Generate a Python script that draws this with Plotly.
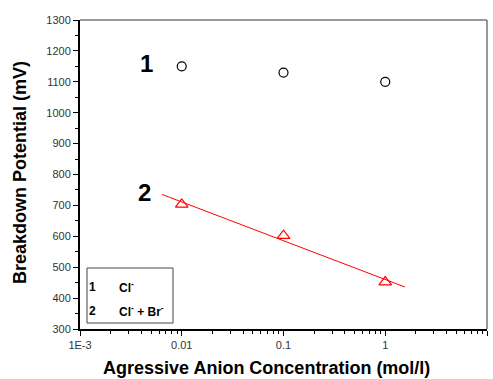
import numpy as np
import plotly.graph_objects as go

conc = [0.01, 0.1, 1]
cl_only = [1150, 1130, 1100]
cl_br = [703, 602, 452]
fit_range = [0.0064, 1.56]
x_tickvals = [0.001, 0.01, 0.1, 1, 10]
x_ticktext = ["1E-3", "0.01", "0.1", "1", "10"]
x_minor = [m * 10.0 ** e for e in range(-3, 1) for m in range(2, 10)]

# linear fit of series 2 versus log10(concentration)
slope, intercept = np.polyfit(np.log10(conc), cl_br, 1)
fit_x = np.logspace(np.log10(fit_range[0]), np.log10(fit_range[1]), 20)
fit_y = slope * np.log10(fit_x) + intercept

FONT = "Arial, 'Liberation Sans', sans-serif"

fig = go.Figure()
fig.add_trace(go.Scatter(x=fit_x, y=fit_y, mode="lines",
                         line=dict(color="#ff0000", width=1), showlegend=False))
fig.add_trace(go.Scatter(x=conc, y=cl_only, mode="markers",
                         marker=dict(symbol="circle-open", size=9, color="black",
                                     line=dict(width=1.2)), showlegend=False))
fig.add_trace(go.Scatter(x=conc, y=cl_br, mode="markers",
                         marker=dict(symbol="triangle-up-open", size=11, color="#ff0000",
                                     line=dict(width=1.2)), showlegend=False))

fig.update_layout(
    width=493, height=379,
    margin=dict(l=80, r=6, t=20, b=50),
    paper_bgcolor="white", plot_bgcolor="white",
    font=dict(family=FONT, color="#222"),
    xaxis=dict(type="log", range=[-3, 1], tickvals=x_tickvals, ticktext=x_ticktext,
               ticks="outside", ticklen=5, tickwidth=1, tickcolor="black",
               showline=True, linewidth=2, linecolor="black", showgrid=False,
               zeroline=False, tickfont=dict(size=11, color="#333"),
               minor=dict(tickvals=x_minor, ticks="outside", ticklen=3,
                          tickcolor="black", showgrid=False)),
    yaxis=dict(range=[300, 1300], dtick=100, ticks="outside", ticklen=5,
               tickwidth=1, tickcolor="black", showline=True, linewidth=2,
               linecolor="black", showgrid=False, zeroline=False,
               tickfont=dict(size=11, color="#333"),
               minor=dict(dtick=50, ticks="outside", ticklen=3, tickcolor="black",
                          showgrid=False)),
)

# axis titles
fig.add_annotation(xref="paper", yref="paper", x=(266 - 80) / 407, y=(329 - 368) / 309,
                   text="<b>Agressive Anion Concentration (mol/l)</b>", showarrow=False,
                   xanchor="center", yanchor="middle",
                   font=dict(size=18, color="black", family=FONT))
fig.add_annotation(xref="paper", yref="paper", x=(20 - 80) / 407, y=(329 - 173) / 309,
                   text="<b>Breakdown Potential (mV)</b>", showarrow=False, textangle=-90,
                   xanchor="center", yanchor="middle",
                   font=dict(size=18, color="black", family=FONT))

# top and right frame lines
fig.add_shape(type="line", xref="paper", yref="paper", x0=0, x1=1, y0=1, y1=1,
              line=dict(color="#333", width=1))
fig.add_shape(type="line", xref="paper", yref="paper", x0=1, x1=1, y0=0, y1=1,
              line=dict(color="#777", width=1.5))

# curve labels
fig.add_annotation(x=np.log10(0.00455), y=1160, text="<b>1</b>", showarrow=False,
                   font=dict(size=24, color="black", family=FONT))
fig.add_annotation(x=np.log10(0.00427), y=743, text="<b>2</b>", showarrow=False,
                   font=dict(size=24, color="black", family=FONT))

# legend box
fig.add_shape(type="rect", xref="paper", yref="paper",
              x0=(87 - 80) / 407, x1=(173 - 80) / 407,
              y0=(329 - 323) / 309, y1=(329 - 268) / 309,
              line=dict(color="#444", width=1), fillcolor="white")
leg = [("1", "Cl<sup>-</sup>", 287), ("2", "Cl<sup>-</sup> + Br<sup>-</sup>", 311)]
for num, txt, yp in leg:
    fig.add_annotation(xref="paper", yref="paper", x=(87 - 80) / 407,
                       y=(329 - yp) / 309, text="<b>" + num + "</b>", showarrow=False,
                       xanchor="left", yanchor="middle",
                       font=dict(size=12, color="black", family=FONT))
    fig.add_annotation(xref="paper", yref="paper", x=(117 - 80) / 407,
                       y=(329 - yp) / 309, text="<b>" + txt + "</b>", showarrow=False,
                       xanchor="left", yanchor="middle",
                       font=dict(size=12, color="black", family=FONT))

fig.write_html("out.html")
